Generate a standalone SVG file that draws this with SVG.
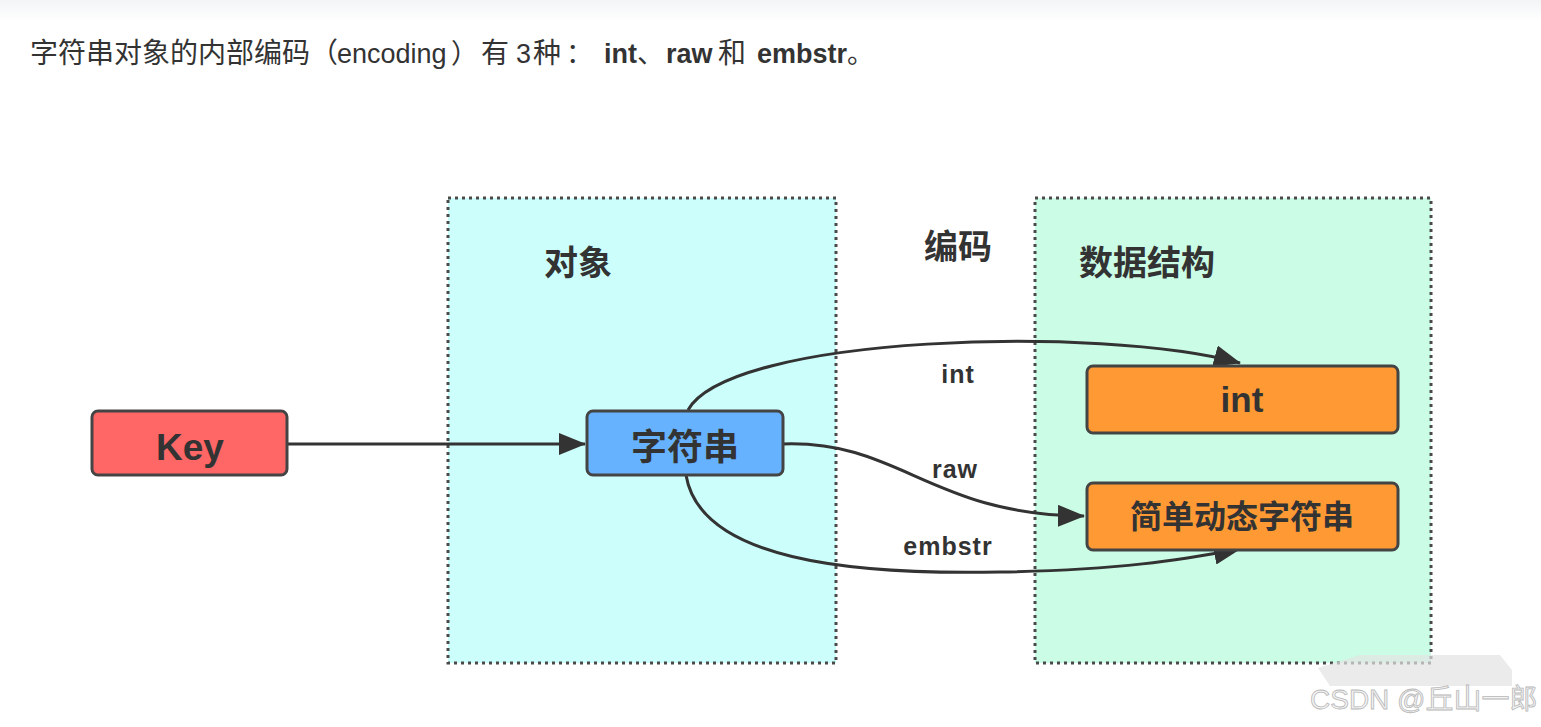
<svg xmlns="http://www.w3.org/2000/svg" width="1541" height="727" viewBox="0 0 1541 727">
<defs>
<linearGradient id="topband" x1="0" y1="0" x2="0" y2="1">
<stop offset="0" stop-color="#f3f4f6"/>
<stop offset="1" stop-color="#ffffff"/>
</linearGradient>
<marker id="arr" markerUnits="userSpaceOnUse" markerWidth="28" markerHeight="22" refX="26" refY="11" orient="auto">
<path d="M0,0 L27,11 L0,22 Z" fill="#333"/>
</marker>
<style>
.hdr{font-family:"Liberation Sans","Noto Sans CJK SC",sans-serif;font-size:27px;fill:#333}
.cjk{font-size:28px}
.b{font-weight:bold}
.area{stroke:#4a4a4a;stroke-width:3;stroke-dasharray:3 4}
.title{font-family:"Liberation Sans","Noto Sans CJK SC",sans-serif;font-size:34px;font-weight:bold;fill:#333}
.node rect{stroke:#444;stroke-width:3}
.ntext{font-family:"Liberation Sans","Noto Sans CJK SC",sans-serif;font-weight:bold;fill:#333;text-anchor:middle}
.edge{fill:none;stroke:#333;stroke-width:3;marker-end:url(#arr)}
.elabel{font-family:"Liberation Sans","Noto Sans CJK SC",sans-serif;font-size:25px;font-weight:bold;fill:#333;text-anchor:middle;letter-spacing:1px}
</style>
</defs>
<rect x="0" y="0" width="1541" height="727" fill="#ffffff"/>
<rect x="0" y="0" width="1541" height="22" fill="url(#topband)"/>

<g id="header" class="hdr">
<text y="63"><tspan x="30" class="cjk">字符串对象的内部编码（</tspan><tspan x="337">encoding</tspan><tspan x="451">）</tspan><tspan x="481" class="cjk">有</tspan><tspan x="516">3</tspan><tspan x="533" class="cjk">种</tspan><tspan x="566">：</tspan><tspan x="604" class="b">int</tspan><tspan x="637">、</tspan><tspan x="666" class="b">raw</tspan><tspan x="718" class="cjk">和</tspan><tspan x="757" class="b">embstr</tspan><tspan x="847">。</tspan></text>
</g>

<g id="area-object">
<rect class="area" x="448" y="198" width="388" height="465" fill="#CCFFFC"/>
<text class="title" x="578" y="275" text-anchor="middle">对象</text>
</g>
<g id="area-datastruct">
<rect class="area" x="1035" y="198" width="396" height="465" fill="#CBFDE6"/>
<text class="title" x="1147" y="275" text-anchor="middle">数据结构</text>
</g>
<g id="label-encoding">
<text class="title" x="958" y="259" text-anchor="middle">编码</text>
</g>

<g id="connectors">
<path class="edge" d="M287,444 L585,444"/>
<path class="edge" d="M688,410 C730,335 1100,325 1240,363"/>
<path class="edge" d="M783,444 C900,440 930,515 1084,516"/>
<path class="edge" d="M686,475 C700,560 850,575 1000,572 C1120,570 1180,560 1240,549"/>
<text class="elabel" x="958" y="383">int</text>
<text class="elabel" x="955" y="478">raw</text>
<text class="elabel" x="948" y="555">embstr</text>
</g>

<g id="node-key" class="node">
<rect x="92" y="411" width="195" height="64" rx="6" fill="#FF6666"/>
<text class="ntext" x="190" y="460" font-size="37">Key</text>
</g>
<g id="node-string" class="node">
<rect x="587" y="411" width="196" height="64" rx="6" fill="#66B2FF"/>
<text class="ntext" x="685" y="460" font-size="36">字符串</text>
</g>
<g id="node-int" class="node">
<rect x="1087" y="366" width="311" height="67" rx="6" fill="#FF9933"/>
<text class="ntext" x="1242" y="412" font-size="35">int</text>
</g>
<g id="node-sds" class="node">
<rect x="1087" y="483" width="311" height="67" rx="6" fill="#FF9933"/>
<text class="ntext" x="1242" y="528" font-size="32">简单动态字符串</text>
</g>

<g id="watermark">
<path d="M1318,668 L1360,655 L1500,655 L1512,670 L1512,686 L1330,686 Z" fill="#e2e2e2" opacity="0.7"/>
<text x="1310" y="709" font-family="Liberation Sans,'Noto Sans CJK SC',sans-serif" font-size="28" fill="#f2f2f2" stroke="#b8b8b8" stroke-width="0.8">CSDN @丘山一郎</text>
</g>
</svg>
